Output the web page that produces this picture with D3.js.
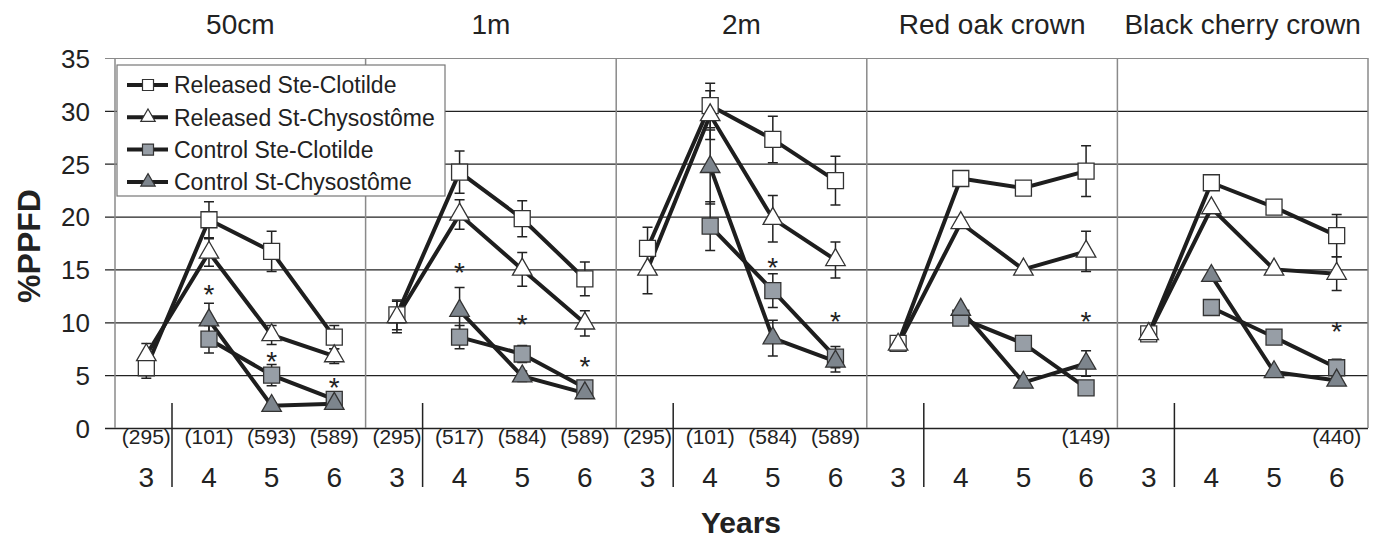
<!DOCTYPE html>
<html>
<head>
<meta charset="utf-8">
<script src="https://cdn.jsdelivr.net/npm/d3@7"></script>
<style>
  body { margin: 0; background: #fff; }
  text { font-family: "Liberation Sans", Arial, sans-serif; fill: #222; }
</style>
</head>
<body>
<div id="app"></div>
<script>
// data
const years = [3, 4, 5, 6]
const panels = ['50cm', '1m', '2m', 'Red oak crown', 'Black cherry crown']
const seriesNames = ['Released Ste-Clotilde', 'Released St-Chysostôme', 'Control Ste-Clotilde', 'Control St-Chysostôme']
const yTicks = [0, 5, 10, 15, 20, 25, 30, 35]

// one row per panel, one value per year
const relClotilde = [
  [5.7, 19.7, 16.7, 8.6],
  [10.7, 24.2, 19.8, 14.1],
  [17.0, 30.5, 27.3, 23.4],
  [8.0, 23.6, 22.7, 24.3],
  [8.9, 23.2, 20.9, 18.2]
]
const relClotildeErr = [
  [1.0, 1.7, 1.9, 1.1],
  [1.4, 2.0, 1.7, 1.6],
  [2.0, 2.1, 2.2, 2.3],
  [0, 0, 0, 2.4],
  [0, 0, 0, 2.0]
]
const relChysostome = [
  [6.9, 16.6, 8.8, 6.8],
  [10.5, 20.2, 15.0, 9.9],
  [15.0, 29.6, 19.8, 15.9],
  [7.9, 19.4, 15.0, 16.7],
  [8.9, 20.8, 15.0, 14.6]
]
const relChysostomeErr = [
  [1.1, 1.3, 0.9, 0.7],
  [1.5, 1.4, 1.6, 1.2],
  [2.3, 2.3, 2.2, 1.7],
  [0, 0, 0, 1.9],
  [0, 0, 0, 1.6]
]
const ctlClotilde = [
  [null, 8.4, 5.0, 2.7],
  [null, 8.6, 7.0, 3.8],
  [null, 19.1, 13.0, 6.7],
  [null, 10.4, 8.0, 3.8],
  [null, 11.4, 8.6, 5.7]
]
const ctlClotildeErr = [
  [0, 1.3, 1.0, 0.4],
  [0, 1.1, 0.8, 0.4],
  [0, 2.3, 1.6, 1.0],
  [0, 0, 0, 0],
  [0, 0, 0, 0.8]
]
const ctlChysostome = [
  [null, 10.2, 2.1, 2.3],
  [null, 11.1, 4.9, 3.3],
  [null, 24.7, 8.5, 6.3],
  [null, 11.2, 4.3, 6.1],
  [null, 14.4, 5.3, 4.5]
]
const ctlChysostomeErr = [
  [0, 1.6, 0.3, 0.3],
  [0, 2.2, 0.5, 0.3],
  [0, 3.5, 1.7, 1.0],
  [0, 0, 0, 1.2],
  [0, 0, 0, 0.3]
]
// where the significance stars sit (in %PPFD)
const stars = [
  [null, 13.4, 7.0, 4.6],
  [null, 15.5, 10.5, 6.6],
  [null, null, 15.9, 10.85],
  [null, null, null, 10.85],
  [null, null, null, 9.85]
]
const sampleSizes = [
  ['(295)', '(101)', '(593)', '(589)'],
  ['(295)', '(517)', '(584)', '(589)'],
  ['(295)', '(101)', '(584)', '(589)'],
  ['', '', '', '(149)'],
  ['', '', '', '(440)']
]

const series = [
  { name: seriesNames[0], values: relClotilde, err: relClotildeErr, shape: 'square', fill: '#ffffff' },
  { name: seriesNames[1], values: relChysostome, err: relChysostomeErr, shape: 'triangle', fill: '#ffffff' },
  { name: seriesNames[2], values: ctlClotilde, err: ctlClotildeErr, shape: 'square', fill: '#979ea6' },
  { name: seriesNames[3], values: ctlChysostome, err: ctlChysostomeErr, shape: 'triangle', fill: '#7d858d' }
]

const W = 1378, H = 543
const plot = { left: 115, right: 1368, top: 58, bottom: 428 }

const svg = d3.select('#app').append('svg')
  .attr('width', W).attr('height', H)

const panelScale = d3.scaleBand().domain(panels).range([plot.left, plot.right])
const xScale = d3.scalePoint().domain(years).range([0, panelScale.bandwidth()]).padding(0.5)
const yScale = d3.scaleLinear().domain([0, 35]).range([plot.bottom, plot.top])

const symbolPath = shape => d3.symbol()
  .type(shape === 'square' ? d3.symbolSquare : d3.symbolTriangle)
  .size(shape === 'square' ? 256 : 165)()
const legendPath = shape => d3.symbol()
  .type(shape === 'square' ? d3.symbolSquare : d3.symbolTriangle)
  .size(shape === 'square' ? 121 : 90)()

// y axis + gridlines (one axis drawn from the right edge)
const yAxis = svg.append('g')
  .attr('transform', `translate(${plot.right},0)`)
  .call(d3.axisLeft(yScale).tickValues(yTicks).tickSize(plot.right - 105).tickPadding(15))
yAxis.select('.domain').remove()
yAxis.selectAll('.tick line')
  .attr('stroke', d => d === 35 ? '#8a8a8a' : '#222')
  .attr('stroke-width', d => d === 0 ? 1.6 : 1.2)
yAxis.selectAll('.tick text')
  .style('font-size', '26px')
  .attr('dy', '0.36em')

// panel borders
svg.append('g').selectAll('line')
  .data(panels.concat(['end']))
  .join('line')
  .attr('x1', (d, i) => i < panels.length ? panelScale(d) : plot.right)
  .attr('x2', (d, i) => i < panels.length ? panelScale(d) : plot.right)
  .attr('y1', plot.top).attr('y2', plot.bottom)
  .attr('stroke', '#8a8a8a').attr('stroke-width', 1.5)

const panelG = svg.selectAll('.panel')
  .data(panels)
  .join('g')
  .attr('class', 'panel')
  .attr('transform', d => `translate(${panelScale(d)},0)`)

// titles
panelG.append('text')
  .attr('x', panelScale.bandwidth() / 2)
  .attr('y', 34)
  .attr('text-anchor', 'middle')
  .style('font-size', '28px')
  .text(d => d)

// divider between year 3 and the following years
panelG.append('line')
  .attr('x1', 57).attr('x2', 57)
  .attr('y1', 403).attr('y2', 487)
  .attr('stroke', '#222').attr('stroke-width', 1.5)

// year labels and sample sizes
panelG.each(function(p, pi) {
  const g = d3.select(this)
  g.selectAll('.year')
    .data(years)
    .join('text')
    .attr('class', 'year')
    .attr('x', d => xScale(d))
    .attr('y', 487)
    .attr('text-anchor', 'middle')
    .style('font-size', '28px')
    .text(d => d)
  g.selectAll('.nsize')
    .data(sampleSizes[pi])
    .join('text')
    .attr('class', 'nsize')
    .attr('x', (d, i) => xScale(years[i]))
    .attr('y', 444)
    .attr('text-anchor', 'middle')
    .style('font-size', '21px')
    .text(d => d)
})

const line = d3.line()
  .defined(d => d.v != null)
  .x(d => xScale(d.year))
  .y(d => yScale(d.v))

panelG.each(function(p, pi) {
  const g = d3.select(this)
  const rows = series.map(s => ({
    s: s,
    pts: years.map((year, i) => ({ year: year, v: s.values[pi][i], e: s.err[pi][i] }))
  }))

  // lines
  g.selectAll('.series-line')
    .data(rows)
    .join('path')
    .attr('class', 'series-line')
    .attr('fill', 'none')
    .attr('stroke', '#1e1e1e')
    .attr('stroke-width', 4)
    .attr('d', d => line(d.pts))

  // error bars
  const bars = rows.flatMap(r => r.pts.filter(d => d.v != null && d.e > 0))
  const eg = g.append('g').attr('stroke', '#222').attr('stroke-width', 1.5)
  eg.selectAll('.eb')
    .data(bars)
    .join('path')
    .attr('class', 'eb')
    .attr('fill', 'none')
    .attr('d', d => {
      const x = xScale(d.year), y1 = yScale(d.v + d.e), y2 = yScale(d.v - d.e)
      return `M${x},${y1}V${y2}M${x - 5},${y1}H${x + 5}M${x - 5},${y2}H${x + 5}`
    })

  // markers
  rows.forEach(r => {
    g.selectAll(null)
      .data(r.pts.filter(d => d.v != null))
      .join('path')
      .attr('transform', d => `translate(${xScale(d.year)},${yScale(d.v)})`)
      .attr('d', symbolPath(r.s.shape))
      .attr('fill', r.s.fill)
      .attr('stroke', '#333')
      .attr('stroke-width', 1.3)
  })

  // significance stars
  g.selectAll('.star')
    .data(years.map((year, i) => ({ year: year, v: stars[pi][i] })).filter(d => d.v != null))
    .join('text')
    .attr('class', 'star')
    .attr('x', d => xScale(d.year))
    .attr('y', d => yScale(d.v))
    .attr('dy', '0.62em')
    .attr('text-anchor', 'middle')
    .style('font-size', '28px')
    .text('*')
})

// legend
const legend = svg.append('g').attr('transform', 'translate(117,65)')
legend.append('rect')
  .attr('width', 328).attr('height', 131)
  .attr('fill', '#fff').attr('stroke', '#777').attr('stroke-width', 1.2)
const item = legend.selectAll('.item')
  .data(series)
  .join('g')
  .attr('class', 'item')
  .attr('transform', (d, i) => `translate(0,${20 + i * 32.3})`)
item.append('line')
  .attr('x1', 10).attr('x2', 51)
  .attr('stroke', '#1e1e1e').attr('stroke-width', 4)
item.append('path')
  .attr('transform', 'translate(31,0)')
  .attr('d', d => legendPath(d.shape))
  .attr('fill', d => d.fill)
  .attr('stroke', '#333').attr('stroke-width', 1.2)
item.append('text')
  .attr('x', 57).attr('dy', '0.36em')
  .style('font-size', '23px')
  .text(d => d.name)

// axis titles
svg.append('text')
  .attr('transform', 'translate(40,246) rotate(-90)')
  .attr('text-anchor', 'middle')
  .style('font-size', '32px').style('font-weight', 'bold')
  .text('%PPFD')
svg.append('text')
  .attr('x', 741).attr('y', 533)
  .attr('text-anchor', 'middle')
  .style('font-size', '30px').style('font-weight', 'bold')
  .text('Years')
</script>
</body>
</html>
